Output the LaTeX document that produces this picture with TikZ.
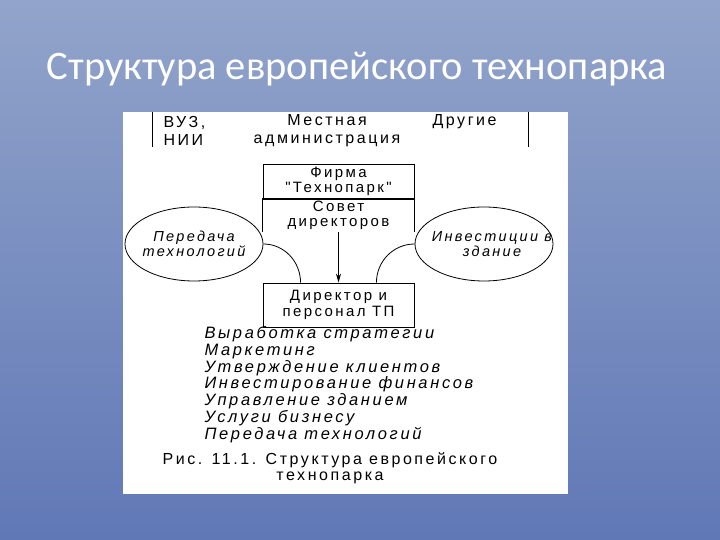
\documentclass[tikz,border=0pt]{standalone}
\usepackage{fontspec}
\setmainfont{Liberation Sans}
\newfontfamily\titlefont{Carlito}
\newfontfamily\widefont[LetterSpace=16]{Liberation Sans}
\newfontfamily\listfont[LetterSpace=16]{Liberation Sans}
\usetikzlibrary{positioning,calc,shapes.geometric,arrows.meta}

\definecolor{slidetop}{RGB}{146,164,202}
\definecolor{slidebot}{RGB}{96,120,182}

\tikzset{
  box/.style={draw, line width=0.8pt, minimum width=151pt, inner sep=0pt, align=center},
  oval/.style={ellipse, draw, line width=0.8pt, minimum width=138pt, minimum height=74pt, inner sep=0pt},
  ovaltext/.style={align=center, font=\fontsize{14.5}{15}\selectfont\widefont\itshape},
  head/.style={align=left, font=\fontsize{16}{18}\selectfont\widefont},
}

\begin{document}
\begin{tikzpicture}[x=1pt,y=1pt]
  \tikzstyle{every node}=[font=\fontsize{15}{15.5}\selectfont\widefont]
  \useasboundingbox (0,0) rectangle (720,540);
  \shade[top color=slidetop, bottom color=slidebot] (0,0) rectangle (720,540);

  % title
  \node[font=\fontsize{40.5}{44}\selectfont\titlefont, text=white] (title) at (357,471) {Структура европейского технопарка};

  % white sheet
  \fill[white] (123,46) rectangle (568,428);

  % top row
  \node[head, anchor=west] (vuz) at (160,409) {ВУЗ,\\НИИ};
  \node[head, align=center] (mestn) at (327,409) {Местная\\администрация};
  \node[head, anchor=west] (drugie) at (429,418) {Другие};
  \draw[line width=1pt] (152,428) -- (152,393);
  \draw[line width=1pt] (528,428) -- (528,393);

  % boxes
  \node[box, minimum height=35pt] (firm) at (338.5,358.5) {Фирма\\"Технопарк"};
  \node[inner sep=0pt, minimum width=151pt, minimum height=33pt, align=center] (sovet) at (338.5,324.5) {Совет\\директоров};
  \draw[line width=0.8pt] (sovet.south west) -- (sovet.north west) -- (sovet.north east) -- (sovet.south east);
  \node[box, minimum height=44pt] (dir) at (338.5,235) {Директор и\\персонал ТП};
  \draw[line width=0.8pt, -{Stealth[length=9pt,width=5pt]}] (sovet.south) -- (dir.north);

  % ellipses
  \node[oval, label={[ovaltext]center:Передача\\технологий}] (peredacha) at (194,296) {};
  \node[oval, label={[ovaltext, xshift=8pt]center:Инвестиции в\\здание}] (invest) at (484,296) {};
  \draw[line width=0.8pt] (peredacha.east) to[out=0,in=90] ($(dir.north west)!0.25!(dir.north east)$);
  \draw[line width=0.8pt] (invest.west) to[out=180,in=90] ($(dir.north east)!0.25!(dir.north west)$);

  % functions
  \node[anchor=west, align=left, font=\fontsize{16.5}{16.8}\selectfont\listfont\itshape] (func) at (201,155.5)
    {Выработка стратегии\\Маркетинг\\Утверждение клиентов\\Инвестирование финансов\\Управление зданием\\Услуги бизнесу\\Передача технологий};

  % caption
  \node[align=center, font=\fontsize{16}{16}\selectfont\widefont] (caption) at (330,72)
    {Рис. 11.1. Структура европейского\\технопарка};
\end{tikzpicture}
\end{document}
